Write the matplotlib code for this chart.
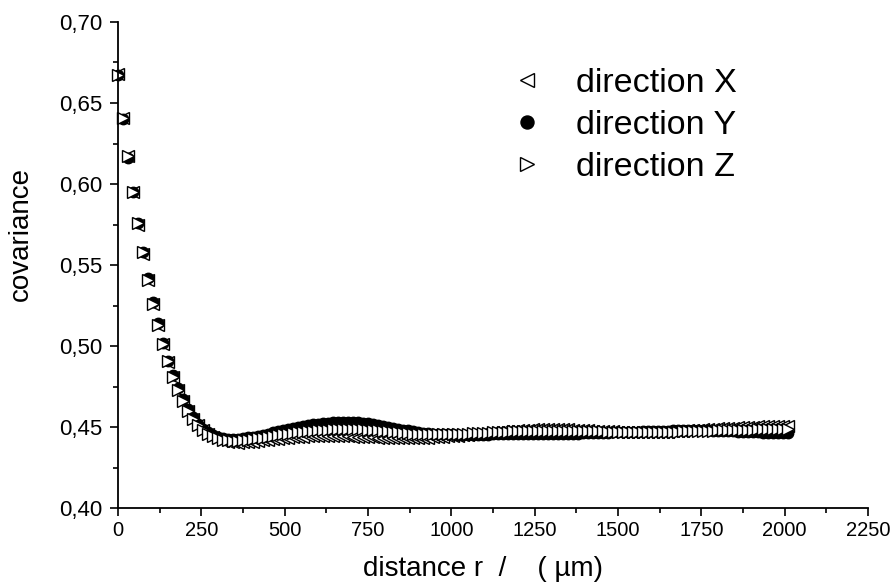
import numpy as np
import matplotlib
matplotlib.use("Agg")
import matplotlib.pyplot as plt
from matplotlib.ticker import MultipleLocator, FuncFormatter

plt.rcParams["font.family"] = ["Liberation Sans", "DejaVu Sans"]

# distance r in um, one sample every 15 um
r_step = 15
n_points = 135
distance = np.arange(n_points) * r_step

cov_x = [
    0.668, 0.641, 0.617, 0.595, 0.575, 0.557, 0.541, 0.526, 0.513, 0.501,
    0.490, 0.481, 0.473, 0.466, 0.460, 0.455, 0.451, 0.448, 0.4455, 0.4437,
    0.4424, 0.4415, 0.4409, 0.4405, 0.4404, 0.4405, 0.4407, 0.4410, 0.4413, 0.4417,
    0.4420, 0.4424, 0.4427, 0.4430, 0.4433, 0.4436, 0.4438, 0.4440, 0.4442, 0.4443,
    0.4444, 0.4445, 0.4445, 0.4445, 0.4444, 0.4443, 0.4442, 0.4441, 0.4440, 0.4438,
    0.4437, 0.4436, 0.4435, 0.4434, 0.4433, 0.4432, 0.4432, 0.4431, 0.4431, 0.4431,
    0.4432, 0.4433, 0.4434, 0.4436, 0.4438, 0.4440, 0.4442, 0.4445, 0.4447, 0.4450,
    0.4453, 0.4456, 0.4459, 0.4462, 0.4465, 0.4468, 0.4471, 0.4474, 0.4476, 0.4478,
    0.4480, 0.4482, 0.4484, 0.4485, 0.4486, 0.4487, 0.4487, 0.4487, 0.4487, 0.4486,
    0.4485, 0.4484, 0.4483, 0.4481, 0.4480, 0.4478, 0.4477, 0.4475, 0.4474, 0.4473,
    0.4472, 0.4471, 0.4470, 0.4470, 0.4469, 0.4469, 0.4469, 0.4469, 0.4470, 0.4471,
    0.4472, 0.4473, 0.4475, 0.4477, 0.4479, 0.4481, 0.4483, 0.4485, 0.4487, 0.4489,
    0.4491, 0.4493, 0.4495, 0.4497, 0.4499, 0.4500, 0.4502, 0.4503, 0.4504, 0.4505,
    0.4506, 0.4507, 0.4507, 0.4508, 0.4508,
]

cov_y = [
    0.667, 0.640, 0.616, 0.595, 0.576, 0.558, 0.542, 0.527, 0.514, 0.502,
    0.491, 0.482, 0.474, 0.467, 0.461, 0.456, 0.452, 0.449, 0.4468, 0.4452,
    0.4440, 0.4433, 0.4429, 0.4428, 0.4429, 0.4432, 0.4436, 0.4441, 0.4447, 0.4453,
    0.4460, 0.4467, 0.4474, 0.4481, 0.4488, 0.4494, 0.4500, 0.4506, 0.4511, 0.4516,
    0.4520, 0.4524, 0.4527, 0.4530, 0.4532, 0.4533, 0.4533, 0.4532, 0.4530, 0.4527,
    0.4523, 0.4518, 0.4513, 0.4507, 0.4501, 0.4495, 0.4489, 0.4484, 0.4479, 0.4474,
    0.4470, 0.4466, 0.4463, 0.4460, 0.4458, 0.4456, 0.4455, 0.4454, 0.4453, 0.4453,
    0.4453, 0.4453, 0.4453, 0.4453, 0.4453, 0.4454, 0.4454, 0.4454, 0.4455, 0.4455,
    0.4455, 0.4455, 0.4455, 0.4455, 0.4455, 0.4455, 0.4455, 0.4456, 0.4456, 0.4457,
    0.4458, 0.4459, 0.4460, 0.4461, 0.4462, 0.4463, 0.4464, 0.4465, 0.4466, 0.4467,
    0.4468, 0.4469, 0.4470, 0.4471, 0.4472, 0.4473, 0.4474, 0.4475, 0.4476, 0.4477,
    0.4478, 0.4479, 0.4480, 0.4481, 0.4481, 0.4481, 0.4481, 0.4480, 0.4479, 0.4478,
    0.4477, 0.4476, 0.4474, 0.4473, 0.4472, 0.4470, 0.4469, 0.4468, 0.4467, 0.4466,
    0.4466, 0.4465, 0.4465, 0.4465, 0.4465,
]

cov_z = [
    0.667, 0.641, 0.617, 0.595, 0.576, 0.558, 0.541, 0.526, 0.513, 0.501,
    0.491, 0.481, 0.473, 0.466, 0.460, 0.455, 0.451, 0.4482, 0.4460, 0.4443,
    0.4431, 0.4423, 0.4418, 0.4416, 0.4416, 0.4418, 0.4421, 0.4425, 0.4430, 0.4435,
    0.4440, 0.4445, 0.4450, 0.4455, 0.4459, 0.4463, 0.4467, 0.4471, 0.4474, 0.4477,
    0.4480, 0.4482, 0.4484, 0.4486, 0.4487, 0.4488, 0.4488, 0.4488, 0.4487, 0.4486,
    0.4484, 0.4482, 0.4479, 0.4476, 0.4473, 0.4470, 0.4467, 0.4464, 0.4462, 0.4460,
    0.4458, 0.4457, 0.4456, 0.4455, 0.4455, 0.4455, 0.4456, 0.4457, 0.4458, 0.4459,
    0.4460, 0.4462, 0.4463, 0.4465, 0.4466, 0.4468, 0.4469, 0.4470, 0.4472, 0.4473,
    0.4474, 0.4475, 0.4476, 0.4477, 0.4477, 0.4478, 0.4478, 0.4478, 0.4478, 0.4478,
    0.4477, 0.4477, 0.4476, 0.4476, 0.4475, 0.4474, 0.4474, 0.4473, 0.4472, 0.4472,
    0.4471, 0.4471, 0.4470, 0.4470, 0.4470, 0.4470, 0.4470, 0.4470, 0.4470, 0.4471,
    0.4471, 0.4472, 0.4472, 0.4473, 0.4474, 0.4474, 0.4475, 0.4476, 0.4477, 0.4478,
    0.4479, 0.4480, 0.4481, 0.4482, 0.4482, 0.4483, 0.4484, 0.4484, 0.4485, 0.4485,
    0.4486, 0.4486, 0.4486, 0.4486, 0.4486,
]

labels = ["direction X", "direction Y", "direction Z"]


def comma_fmt(v, pos):
    return f"{v:.2f}".replace(".", ",")


fig = plt.figure(figsize=(8.9, 5.88), dpi=100)
ax = fig.add_axes([0.1326, 0.136, 0.8427, 0.8266])

ax.plot(distance, cov_x, linestyle="none", marker="<", markersize=8,
        markerfacecolor="white", markeredgecolor="black", markeredgewidth=1.0,
        label=labels[0], clip_on=False)
ax.plot(distance, cov_y, linestyle="none", marker="o", markersize=7.5,
        markerfacecolor="black", markeredgecolor="black", markeredgewidth=1.0,
        label=labels[1], clip_on=False)
ax.plot(distance, cov_z, linestyle="none", marker=">", markersize=8,
        markerfacecolor="white", markeredgecolor="black", markeredgewidth=1.0,
        label=labels[2], clip_on=False)

ax.set_xlim(0, 2250)
ax.set_ylim(0.40, 0.70)
ax.xaxis.set_major_locator(MultipleLocator(250))
ax.xaxis.set_minor_locator(MultipleLocator(125))
ax.yaxis.set_major_locator(MultipleLocator(0.05))
ax.yaxis.set_minor_locator(MultipleLocator(0.025))
ax.yaxis.set_major_formatter(FuncFormatter(comma_fmt))

for side in ["top", "right"]:
    ax.spines[side].set_visible(False)
for side in ["left", "bottom"]:
    ax.spines[side].set_linewidth(1.3)

ax.tick_params(which="major", direction="out", length=6, width=1.2)
ax.tick_params(which="minor", direction="out", length=3.5, width=1.2)
ax.tick_params(axis="y", which="major", labelsize=16, pad=5)
ax.tick_params(axis="x", which="major", labelsize=14.5, pad=3)

ax.set_xlabel("distance r  /    ( \u00b5m)", fontsize=20)
ax.set_ylabel("covariance", fontsize=20)
ax.xaxis.set_label_coords(0.487, -0.098)
ax.yaxis.set_label_coords(-0.112, 0.564)

fig.legend(loc="upper left", bbox_to_anchor=(0.573, 0.885), frameon=False,
           fontsize=24.5, handlelength=1.0, handletextpad=0.95, borderpad=0,
           borderaxespad=0, labelspacing=0.33, markerscale=1.25)

fig.savefig("out.png", dpi=100)
plt.close(fig)
